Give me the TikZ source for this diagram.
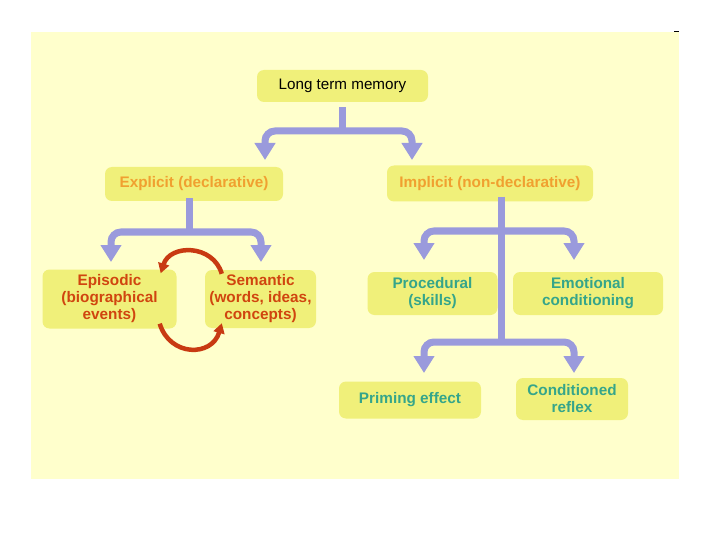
\documentclass[tikz,border=0pt]{standalone}
\usepackage{fontspec}
\setmainfont{Liberation Sans}
\usetikzlibrary{arrows.meta}
\definecolor{bgyel}{HTML}{FFFFCC}
\definecolor{boxyel}{HTML}{F0F07A}
\definecolor{lav}{HTML}{9A9ADC}
\definecolor{orangetxt}{HTML}{F0A030}
\definecolor{redtxt}{HTML}{D0450F}
\definecolor{tealtxt}{HTML}{35A58A}
\definecolor{cycred}{HTML}{C83A12}
\tikzset{
  box/.style={fill=boxyel, rounded corners=7pt, inner sep=0pt, align=center,
    font=\fontsize{15.3}{17}\selectfont\bfseries},
  conn/.style={draw=lav, line width=7pt, rounded corners=10pt,
    {Triangle[width=20pt,length=17pt]}-{Triangle[width=20pt,length=17pt]}},
  stem/.style={draw=lav, line width=7pt},
  cyc/.style={draw=cycred, line width=4.5pt, -{Triangle[width=11pt,length=10pt]}},
}
\begin{document}
\begin{tikzpicture}[x=1pt,y=-1pt]
\useasboundingbox (0,0) rectangle (720,540);
\fill[white] (0,0) rectangle (720,540);
\fill[bgyel] (31,32) rectangle (679,479);
\draw[black, line width=1pt] (674,32) -- (679,32);

\node[box, minimum width=171pt, minimum height=32pt, font=\fontsize{15.2}{17}\selectfont] (ltm) at (342.5,86) {Long term memory};
\node[box, minimum width=178pt, minimum height=34pt, text=orangetxt] (exp) at (194,184) {Explicit (declarative)};
\node[box, minimum width=206pt, minimum height=36pt, text=orangetxt] (imp) at (490,183.5) {Implicit (non-declarative)};
\node[box, minimum width=134pt, minimum height=59pt, text=redtxt] (epi) at (109.5,299) {Episodic\\(biographical\\events)};
\node[box, minimum width=111pt, minimum height=58pt, text=redtxt] (sem) at (260.5,299) {Semantic\\(words, ideas,\\concepts)};
\node[box, minimum width=130pt, minimum height=43pt, text=tealtxt] (pro) at (432.5,293.5) {Procedural\\(skills)};
\node[box, minimum width=150pt, minimum height=43pt, text=tealtxt] (emo) at (588,293.5) {Emotional\\conditioning};
\node[box, minimum width=142pt, minimum height=37pt, text=tealtxt] (pri) at (410,400) {Priming effect};
\node[box, minimum width=112pt, minimum height=42pt, text=tealtxt] (con) at (572,399) {Conditioned\\reflex};

% Long term memory branches
\coordinate (ltmj) at (ltm.south |- 0,131);
\draw[stem] ([yshift=-5pt]ltm.south) -- (ltmj);
\coordinate (ea) at (265,160);
\coordinate (ia) at (412,160);
\draw[conn] (ea) |- (ltmj) -| (ia);

% Explicit branches
\coordinate (expj) at (189,232);
\draw[stem] (exp.south -| expj) ++(0,-3) -- (expj);
\coordinate (epa) at (111,262);
\coordinate (sea) at (261,262);
\draw[conn] (epa) |- (expj) -| (sea);

% Implicit branches
\coordinate (impj) at (501,231);
\coordinate (impk) at (501,342);
\draw[stem] (imp.south -| impj) ++(0,-5) -- (impk);
\coordinate (proa) at (424,260);
\coordinate (emoa) at (574,260);
\draw[conn] (proa) |- (impj) -| (emoa);
\coordinate (pria) at (424,373);
\coordinate (cona) at (574,373);
\draw[conn] (pria) |- (impk) -| (cona);

% Cycle arrows between episodic and semantic
\draw[cyc] ([xshift=17pt,yshift=-4pt]sem.north west) .. controls (213,244) and (170,244) .. ([xshift=-16pt,yshift=-4pt]epi.north east);
\draw[cyc] ([xshift=-17pt,yshift=5pt]epi.south east) .. controls (170,357) and (212,357) .. ([xshift=17pt,yshift=5pt]sem.south west);
\end{tikzpicture}
\end{document}
